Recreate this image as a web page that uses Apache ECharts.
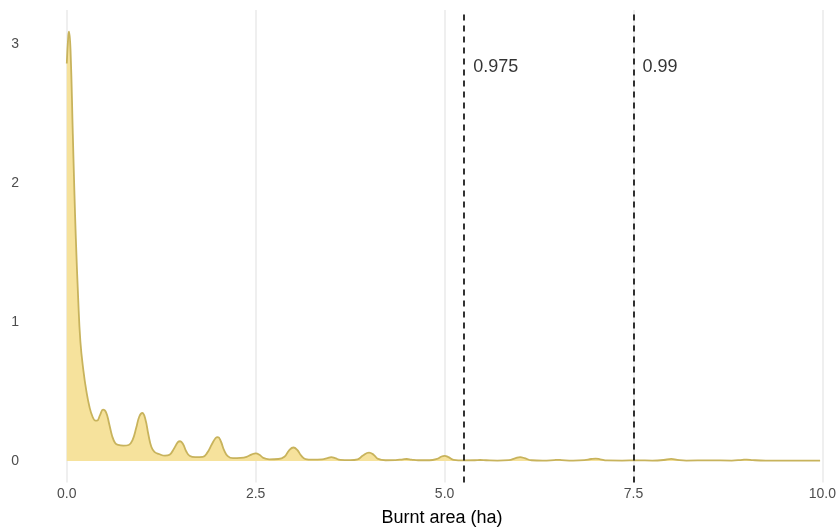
<!DOCTYPE html>
<html>
<head>
<meta charset="utf-8">
<script src="https://cdn.jsdelivr.net/npm/echarts@6/dist/echarts.min.js"></script>
<style>
  html, body { margin: 0; padding: 0; background: #ffffff; }
  #chart { width: 840px; height: 527px; }
</style>
</head>
<body>
<div id="chart"></div>
<script>
// Kernel density of burnt area (ha)
const burntArea = [
  0.00, 0.02, 0.03, 0.05, 0.08, 0.10, 0.12, 0.15, 0.18, 0.22, 0.26, 0.30, 0.34, 0.38, 0.40,
  0.44, 0.48, 0.52, 0.56, 0.60, 0.64, 0.68, 0.75, 0.82, 0.87, 0.92, 0.96, 1.00, 1.04, 1.08,
  1.12, 1.16, 1.22, 1.30, 1.36, 1.42, 1.47, 1.50, 1.54, 1.58, 1.63, 1.70, 1.80, 1.86, 1.92,
  1.97, 2.00, 2.04, 2.08, 2.13, 2.20, 2.30, 2.38, 2.45, 2.50, 2.55, 2.60, 2.68, 2.80, 2.88,
  2.94, 3.00, 3.05, 3.10, 3.16, 3.25, 3.38, 3.45, 3.50, 3.55, 3.62, 3.75, 3.85, 3.92, 4.00,
  4.06, 4.12, 4.22, 4.35, 4.45, 4.50, 4.56, 4.65, 4.80, 4.90, 4.96, 5.00, 5.05, 5.12, 5.25,
  5.40, 5.47, 5.55, 5.70, 5.85, 5.94, 6.00, 6.06, 6.15, 6.30, 6.45, 6.50, 6.55, 6.70, 6.85,
  6.94, 7.00, 7.06, 7.15, 7.35, 7.55, 7.75, 7.90, 8.00, 8.08, 8.20, 8.50, 8.80, 8.94, 9.00,
  9.08, 9.25, 9.60, 9.97
];
const density = [
  2.86, 3.06, 3.09, 2.95, 2.35, 1.95, 1.60, 1.18, 0.86, 0.65, 0.50, 0.39, 0.32, 0.29, 0.29,
  0.33, 0.37, 0.35, 0.27, 0.18, 0.13, 0.115, 0.11, 0.115, 0.15, 0.24, 0.32, 0.345, 0.30, 0.19,
  0.10, 0.066, 0.05, 0.038, 0.045, 0.09, 0.135, 0.142, 0.12, 0.07, 0.035, 0.027, 0.03, 0.06, 0.12,
  0.165, 0.172, 0.14, 0.08, 0.035, 0.02, 0.022, 0.03, 0.048, 0.055, 0.045, 0.022, 0.012, 0.014, 0.03,
  0.075, 0.097, 0.08, 0.04, 0.014, 0.01, 0.012, 0.02, 0.027, 0.02, 0.008, 0.006, 0.012, 0.04, 0.06,
  0.045, 0.015, 0.005, 0.006, 0.012, 0.014, 0.01, 0.005, 0.005, 0.015, 0.032, 0.036, 0.028, 0.008, 0.004,
  0.005, 0.007, 0.005, 0.003, 0.006, 0.02, 0.027, 0.02, 0.005, 0.003, 0.006, 0.008, 0.006, 0.003, 0.006,
  0.014, 0.017, 0.012, 0.004, 0.003, 0.004, 0.003, 0.007, 0.015, 0.008, 0.003, 0.004, 0.003, 0.008, 0.01,
  0.006, 0.003, 0.003, 0.002
];

// Quantile markers
const quantileNames = ['0.975', '0.99'];
const quantileValues = [5.26, 7.5];
const quantileLabelY = 2.835;

// Axis ticks
const xTicks = [0, 2.5, 5, 7.5, 10];
const yTicks = [0, 1, 2, 3];

const FONT = '"Liberation Sans", Arial, Helvetica, sans-serif';

const curve = burntArea.map((x, i) => [x, density[i]]);

const chart = echarts.init(document.getElementById('chart'), null, { renderer: 'canvas' });

chart.setOption({
  animation: false,
  backgroundColor: '#ffffff',
  grid: { left: 29, right: 1, top: 10, bottom: 44.5, containLabel: false, outerBoundsMode: 'none' },
  xAxis: {
    type: 'value',
    min: -0.5,
    max: 10.22,
    name: 'Burnt area (ha)',
    nameLocation: 'middle',
    nameGap: 27,
    nameTextStyle: { fontFamily: FONT, fontSize: 18, color: '#000000', padding: [0, 0, 0, 16] },
    axisLine: { show: false },
    axisTick: { show: false, customValues: xTicks },
    axisLabel: {
      customValues: xTicks,
      fontFamily: FONT, fontSize: 14, color: '#4d4d4d', margin: 5,
      formatter: v => v.toFixed(1)
    },
    splitLine: { show: true, lineStyle: { color: '#ebebeb', width: 1.6 } }
  },
  yAxis: {
    type: 'value',
    min: -0.155,
    max: 3.245,
    axisLine: { show: false },
    axisTick: { show: false, customValues: yTicks },
    axisLabel: {
      customValues: yTicks,
      fontFamily: FONT, fontSize: 14, color: '#4d4d4d', margin: 10,
      formatter: v => String(v)
    },
    splitLine: { show: false }
  },
  series: [
    {
      type: 'line',
      data: curve,
      smooth: 0.45,
      showSymbol: false,
      lineStyle: { color: '#c8b35c', width: 1.8 },
      areaStyle: { color: '#f6e29c', opacity: 1 },
      markLine: {
        silent: true,
        symbol: ['none', 'none'],
        label: { show: false },
        lineStyle: { color: '#000000', type: [6, 5], width: 1.6 },
        data: quantileValues.map(v => ({ xAxis: v }))
      },
      z: 2
    },
    {
      type: 'scatter',
      symbolSize: 0,
      data: quantileValues.map((v, i) => ({ value: [v, quantileLabelY], name: quantileNames[i] })),
      label: {
        show: true,
        position: 'right',
        distance: 9,
        formatter: p => p.name,
        fontFamily: FONT, fontSize: 18, color: '#000000'
      },
      z: 3
    }
  ]
});
</script>
</body>
</html>
